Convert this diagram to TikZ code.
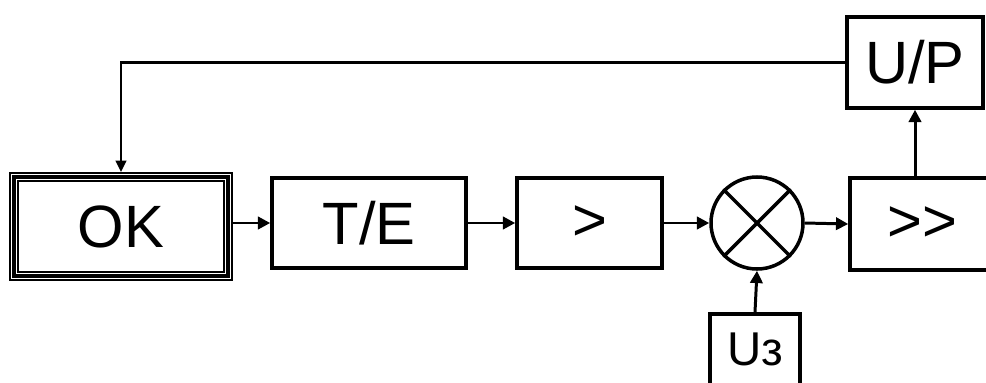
\documentclass[tikz,border=0pt]{standalone}
\usepackage{fontspec}
\setmainfont{Liberation Sans}
\usetikzlibrary{arrows.meta,calc}

\begin{document}
\begin{tikzpicture}[x=0.02cm,y=-0.02cm,
    blk/.style={draw,line width=2pt,inner sep=0pt,font=\fontsize{34}{37}\selectfont},
    con/.style={line width=1.7pt,-{Triangle[length=7pt,width=7pt]}},
    fb/.style={line width=1.3pt,-{Triangle[length=6.5pt,width=6pt]}}]
  \useasboundingbox (0,0) rectangle (986,382);
  \clip (0,0) rectangle (986,382);

  % object block, three frames
  \node[blk,line width=1pt,minimum width=222*0.02cm,minimum height=107*0.02cm] (ok) at (121,226.5) {OK};
  \draw[line width=1.8pt] (14,177) rectangle (228,276);
  \draw[line width=1pt] (18,181) rectangle (224,272);

  % forward chain
  \node[blk,minimum width=194*0.02cm,minimum height=90*0.02cm] (te) at (369,223) {T/E};
  \node[blk,minimum width=145*0.02cm,minimum height=90*0.02cm] (amp) at (589.5,223) {>};
  \node[draw,circle,line width=2pt,minimum size=92*0.02cm,inner sep=0pt] (mul) at (757,223) {};
  \draw[line width=2pt] (mul.north east) -- (mul.south west);
  \draw[line width=2pt] (mul.north west) -- (mul.south east);
  \node[blk,minimum width=144*0.02cm,minimum height=92*0.02cm] (pamp) at (922,224) {>{}>};

  % reference and measuring blocks
  \node[blk,anchor=north,minimum width=90*0.02cm,minimum height=72*0.02cm,
        font=\fontsize{27}{30}\selectfont] (uz) at (755,312) {Uз};
  \node[blk,minimum width=136*0.02cm,minimum height=91*0.02cm] (up) at (915,62.5) {U/P};

  % connections
  \draw[con] (ok.east |- te.west) -- (te.west);
  \draw[con] (te.east) -- (amp.west);
  \draw[con] (amp.east) -- (mul.west);
  \draw[con] (mul.east) -- (pamp.west);
  \draw[con] (uz.north) -- (mul.south);
  \draw[con] (pamp.north -| up.south) -- (up.south);

  % feedback
  \draw[fb] (up.west) -| (ok.north);
\end{tikzpicture}
\end{document}
